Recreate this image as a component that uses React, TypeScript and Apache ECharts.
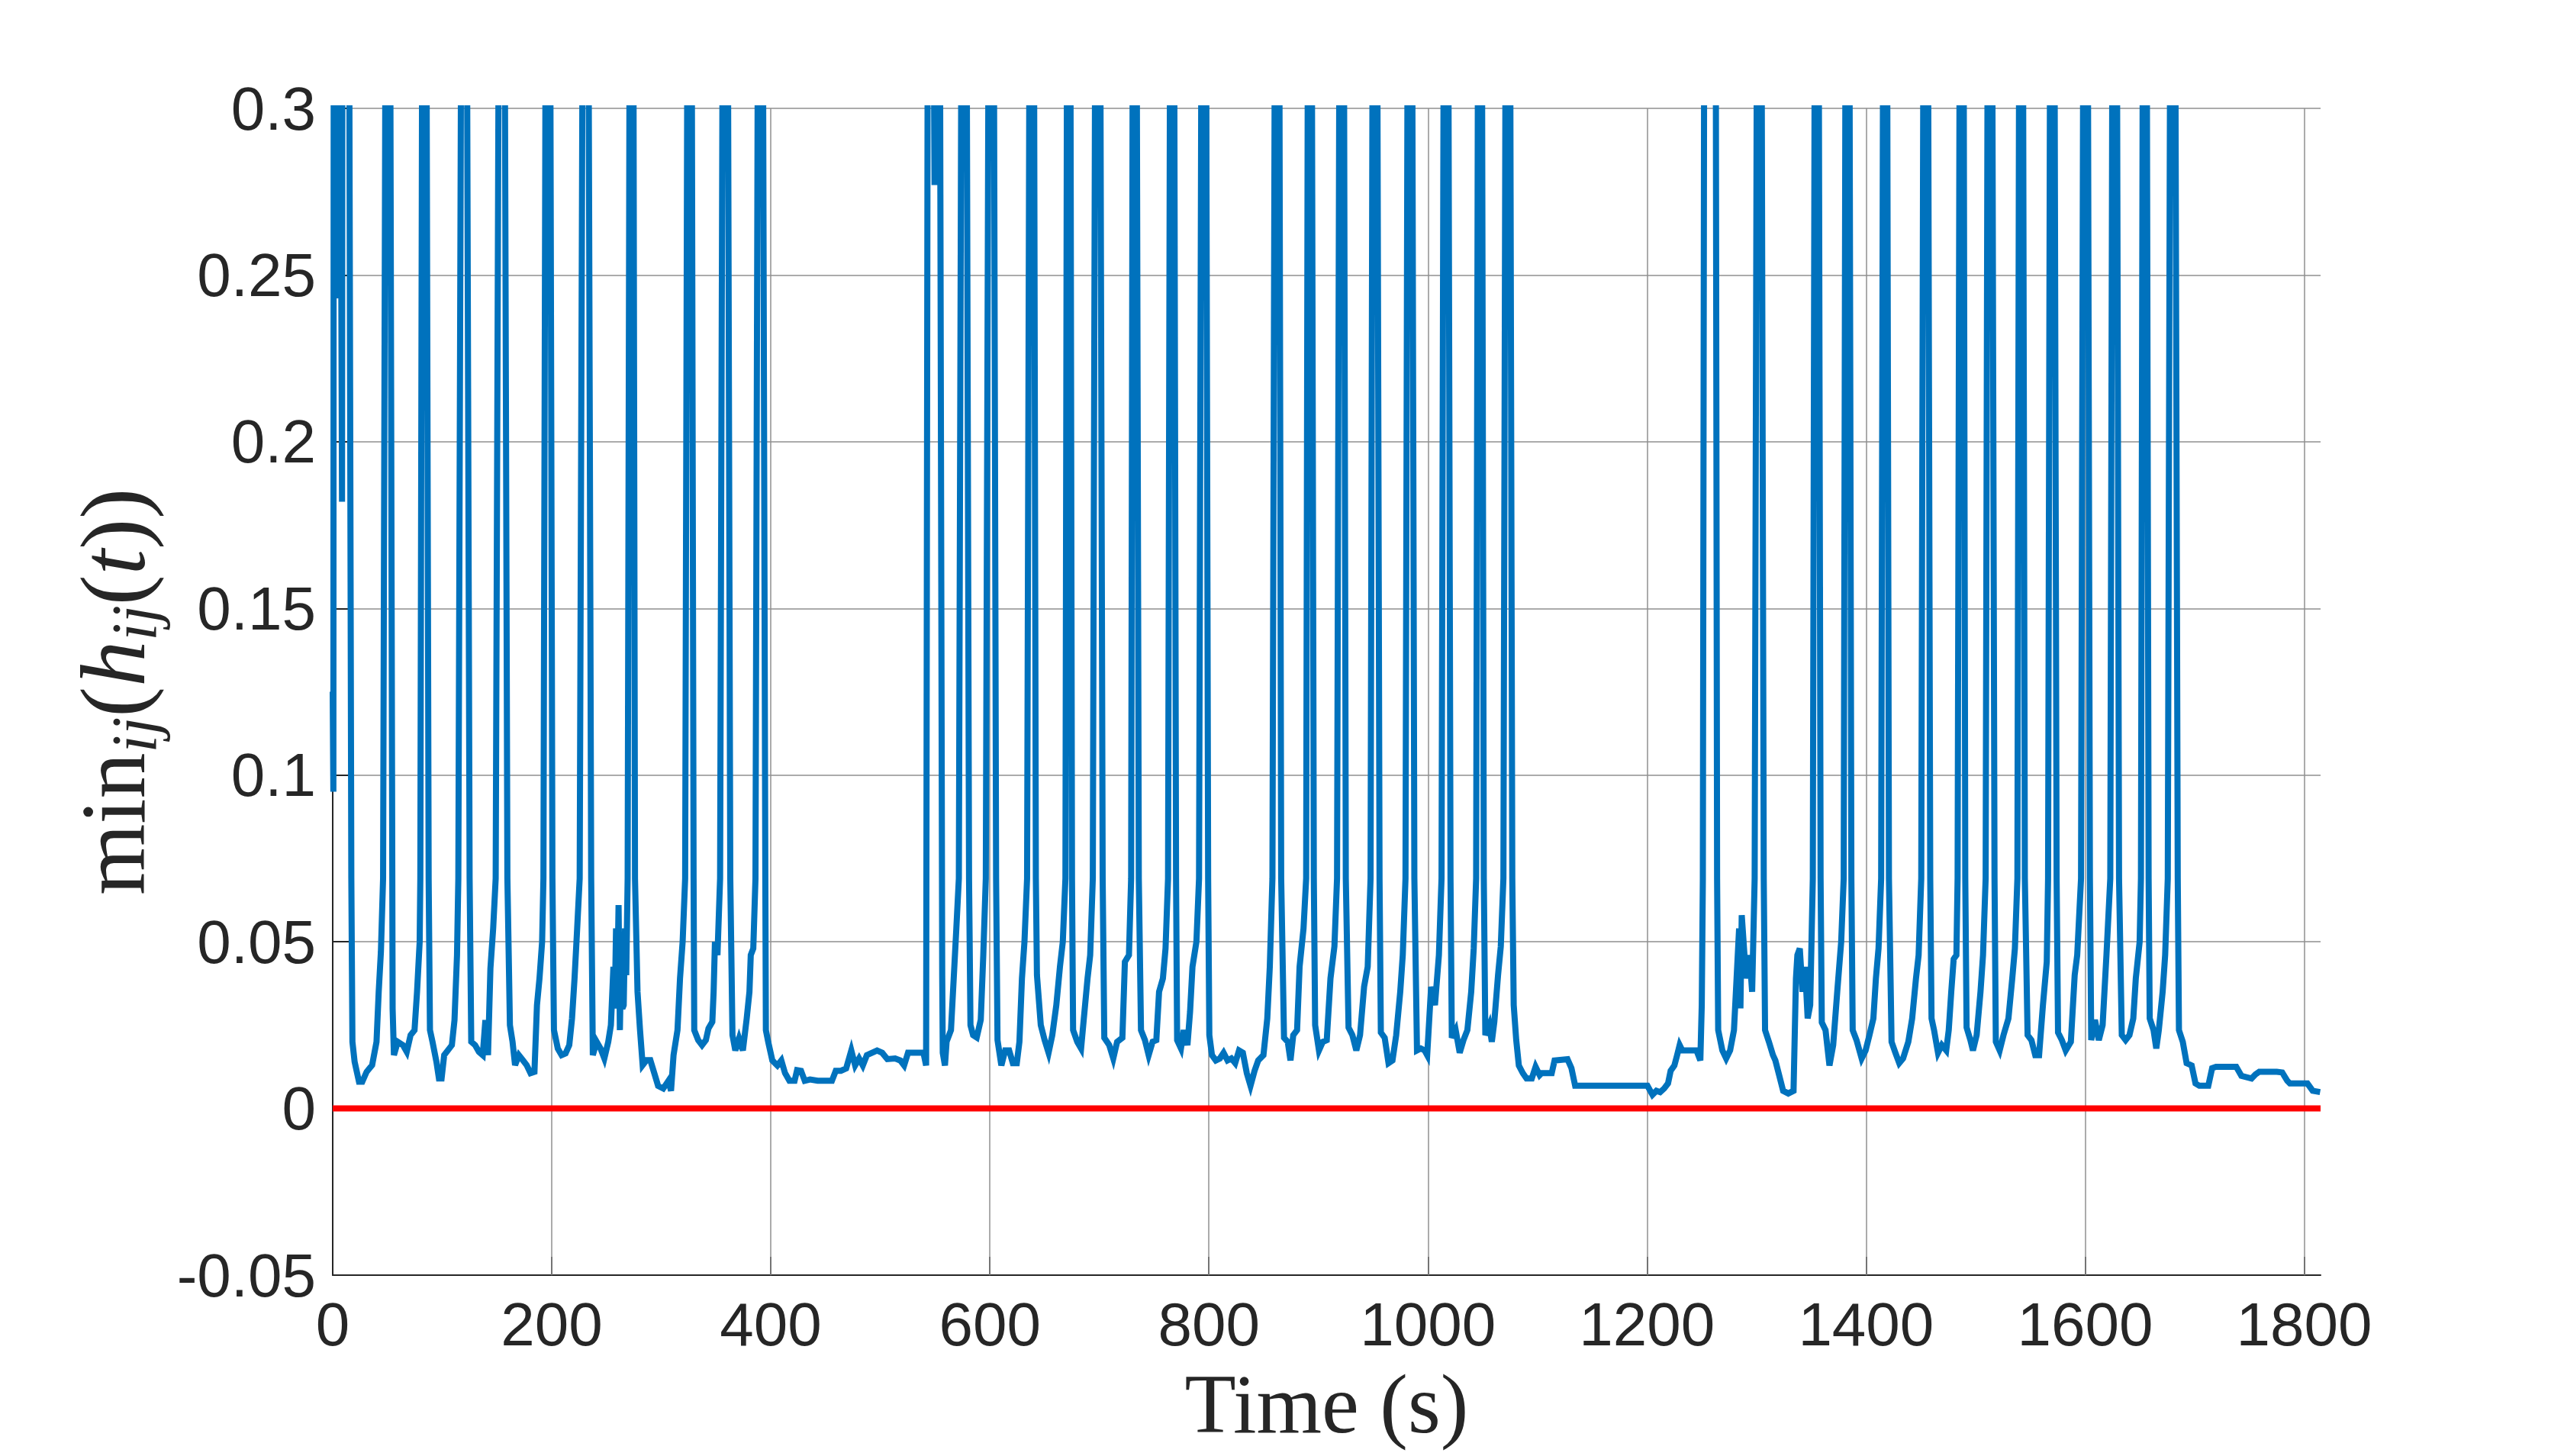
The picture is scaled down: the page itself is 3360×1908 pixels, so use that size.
import React, { useEffect, useRef } from 'react';
import * as echarts from 'echarts';

// ---- axis / tick definitions ----
const X_TICKS = [0, 200, 400, 600, 800, 1000, 1200, 1400, 1600, 1800];
const X_MIN = 0;
const X_MAX = 1815;
const Y_MIN = -0.05;
const Y_MAX = 0.3;
const Y_STEP = 0.05;

// safety threshold (red line)
const SAFETY_LEVEL = [[0, 0], [1815, 0]];

// ---- min_ij(h_ij(t)), [time s, value] ----
const burstA = [
  [0, 0.125], [0.6, 0.095], [1.3, 0.6], [3.8, 0.243], [4.4, 0.6], [8.5, 0.182], [9.5, 0.6], [13, 0.6],
  [17, 0.069], [18, 0.02], [20, 0.014], [24, 0.008], [27, 0.008], [31, 0.011], [36, 0.013], [40, 0.02], [42, 0.035], [44, 0.047], [46, 0.069],
  [50.5, 0.6],
  [54.7, 0.03], [55.9, 0.016], [59.4, 0.02], [64.1, 0.019], [67.6, 0.017], [71.1, 0.022], [74.7, 0.0235], [77, 0.035], [79.4, 0.05], [80, 0.069],
  [83.5, 0.6],
  [87.6, 0.069], [88.8, 0.0235], [91.1, 0.02], [94.7, 0.014], [97, 0.009], [99.4, 0.009], [101.8, 0.016], [105.3, 0.0175], [108.8, 0.019], [111.2, 0.0265], [113.5, 0.046], [114.7, 0.069],
  [120, 0.6],
  [125, 0.069], [126.5, 0.02], [130, 0.019], [133.5, 0.017], [137, 0.016], [139.4, 0.0265], [141.8, 0.016], [144, 0.042], [146.5, 0.054], [148.8, 0.069],
  [154.5, 0.6],
  [159.5, 0.069], [161.8, 0.025], [164.2, 0.02], [166.5, 0.013], [170, 0.016], [173.6, 0.0145], [177.1, 0.013], [180.6, 0.0106], [184.2, 0.011], [186.5, 0.031], [188.8, 0.039], [191.2, 0.05], [192.4, 0.069],
  [196.5, 0.6],
  [200.6, 0.069], [202, 0.0235], [205.5, 0.018], [209, 0.016], [212.6, 0.0165], [216, 0.019], [218.5, 0.027], [220.8, 0.039], [223.2, 0.054], [225.5, 0.069],
  [231, 0.6],
  [236, 0.069], [237.5, 0.016], [241, 0.02], [244.5, 0.018], [248, 0.015], [251.6, 0.02], [254, 0.025], [256.3, 0.0425], [257.5, 0.03], [258.7, 0.054], [260, 0.04], [261, 0.061], [262.2, 0.0235], [263.4, 0.046], [264.5, 0.03], [265.7, 0.031], [266.9, 0.054], [268, 0.04], [269.3, 0.069],
  [273, 0.6],
  [276, 0.069], [278.3, 0.035], [280.6, 0.0235], [283, 0.013], [286.5, 0.0145], [290, 0.0145], [293.6, 0.0106], [297.1, 0.0068], [301.8, 0.006], [306.5, 0.0083], [308.9, 0.0053], [311.2, 0.016], [314.8, 0.0235], [317.1, 0.039], [319.5, 0.05], [321.8, 0.069],
  [326, 0.6],
  [329.5, 0.069], [330.1, 0.0235], [333.7, 0.0205], [337.2, 0.019], [340.7, 0.0205], [343.1, 0.024], [346.6, 0.026], [347.8, 0.035], [349, 0.05], [351.3, 0.046], [353.7, 0.069],
  [358.5, 0.6],
  [363, 0.069], [365, 0.022], [367.6, 0.0174], [371, 0.021], [374.5, 0.0174], [378, 0.027], [380.5, 0.035], [381.7, 0.046], [384, 0.048], [386, 0.069],
  [390.5, 0.6],
];

const quietA = [
  [395, 0.069], [395.5, 0.0235], [397.6, 0.02], [401.4, 0.0144], [406, 0.0129], [409.6, 0.0144], [413, 0.0106], [417, 0.0083], [421.7, 0.0083], [424, 0.0115], [427.6, 0.0113], [431, 0.0083], [435.8, 0.0087], [442.8, 0.0083], [455.8, 0.0083], [459.3, 0.0113], [464, 0.0113], [468.8, 0.012], [473.5, 0.0174], [477, 0.0129], [480.6, 0.015], [484, 0.0129], [487.7, 0.016], [492.4, 0.0167], [497, 0.0174], [501.7, 0.0167], [506.4, 0.0148], [513.5, 0.015], [518.2, 0.0144], [521.7, 0.0129], [525.3, 0.0167], [530, 0.0167], [534.7, 0.0167], [539.4, 0.0167], [541.8, 0.0129],
];

const burstB = [
  [544.5, 0.6], [549.5, 0.277], [552.5, 0.6], [556.5, 0.04],
  [557, 0.0167], [559, 0.0129], [560.5, 0.02], [564.5, 0.0235], [567, 0.039], [569.4, 0.054], [571.7, 0.069],
  [576.5, 0.6],
  [581, 0.069], [582.3, 0.025], [584.7, 0.022], [588, 0.0213], [591.7, 0.0266], [594, 0.046], [596.3, 0.069],
  [601.5, 0.6],
  [605.7, 0.069], [607, 0.0205], [610.5, 0.0129], [614, 0.0174], [617.6, 0.0174], [621, 0.0136], [624.6, 0.0136], [627, 0.02], [629.3, 0.039], [631.6, 0.05], [634, 0.069],
  [638.5, 0.6],
  [642, 0.069], [643, 0.04], [646.5, 0.025], [650, 0.0205], [653.6, 0.0167], [657, 0.022], [660.7, 0.031], [664, 0.0425], [666.6, 0.05], [669, 0.069],
  [672, 0.6],
  [675, 0.069], [676, 0.0235], [679.8, 0.02], [683.3, 0.018], [685.7, 0.0266], [689.2, 0.039], [691.6, 0.046], [694, 0.069],
  [698.5, 0.6],
  [703, 0.069], [704.5, 0.0212], [709, 0.019], [712.7, 0.015], [716.2, 0.02], [721, 0.0212], [723.3, 0.044], [727, 0.046], [729, 0.069],
  [732, 0.6],
  [736, 0.069], [738, 0.0235], [741.6, 0.0205], [745, 0.016], [748.6, 0.02], [752, 0.0205], [754.5, 0.035], [758, 0.039], [760.4, 0.048], [762.7, 0.069],
  [766.5, 0.6],
  [770, 0.069], [771, 0.0205], [774.5, 0.018], [777, 0.0235], [780.4, 0.019], [782.8, 0.029], [785, 0.0425], [788.6, 0.05], [791, 0.069],
  [795.5, 0.6],
  [799.3, 0.069], [800.4, 0.022], [802.8, 0.016], [806.3, 0.0144], [810, 0.015], [813.4, 0.0167], [817, 0.0144], [820.5, 0.015], [824, 0.0136], [827.5, 0.0174], [831, 0.0167], [834.6, 0.0106], [838, 0.0068], [841.7, 0.0113], [845, 0.0144], [849.8, 0.016], [853.3, 0.027], [855.6, 0.0425], [858, 0.069],
  [862.5, 0.6],
  [866, 0.069], [868.6, 0.0212], [872, 0.02], [874.5, 0.0144], [877, 0.022], [880.5, 0.0235], [882.8, 0.0425], [886.4, 0.054], [888.8, 0.069],
  [892, 0.6],
  [895.8, 0.069], [897, 0.025], [900.5, 0.0174], [904, 0.02], [907.6, 0.0205], [911, 0.039], [914.6, 0.0486], [917, 0.069],
  [921.5, 0.6],
  [925, 0.069], [927.5, 0.0243], [931, 0.022], [934.6, 0.0174], [938, 0.022], [941.7, 0.0365], [945, 0.0425], [947.6, 0.069],
  [951.5, 0.6],
  [955.8, 0.069], [957, 0.0228], [960.5, 0.0212], [964, 0.0136], [967.6, 0.0144], [971, 0.022], [974.7, 0.035], [977, 0.046], [979.5, 0.069],
  [983.5, 0.6],
  [987.6, 0.069], [990, 0.0174], [993.5, 0.018], [997, 0.0174], [999.3, 0.016], [1002.9, 0.0365], [1006.4, 0.031], [1010, 0.046], [1012.4, 0.069],
  [1016.5, 0.6],
  [1020.6, 0.069], [1021.8, 0.0212], [1025.3, 0.0235], [1029, 0.0167], [1032.4, 0.0205], [1036, 0.0235], [1039.5, 0.035], [1041.8, 0.048], [1044, 0.069],
  [1047.5, 0.6],
  [1051, 0.069], [1052.4, 0.022], [1056, 0.025], [1058.3, 0.02], [1060.6, 0.026], [1064, 0.04], [1066.5, 0.0486], [1068.9, 0.069],
  [1073, 0.6],
];

const quietB = [
  [1077, 0.069], [1078.3, 0.031], [1080.6, 0.0205], [1083, 0.0129], [1086.6, 0.0106], [1090, 0.009], [1094.8, 0.009], [1098.3, 0.0125], [1102, 0.01], [1103.8, 0.0106], [1113, 0.0106], [1115.6, 0.0144], [1127.4, 0.0148], [1131, 0.0121], [1134.4, 0.0068], [1151, 0.0068], [1174.5, 0.0068], [1200.4, 0.0068], [1205, 0.0041], [1208.6, 0.0053], [1212, 0.0049], [1215.7, 0.006], [1219.2, 0.0075], [1221.6, 0.0113], [1225, 0.0129], [1227.5, 0.016], [1229.8, 0.019], [1232.2, 0.0174], [1245.2, 0.0174], [1248.7, 0.0144], [1250, 0.031], [1251, 0.069],
];

const burstC = [
  [1253.5, 0.6], [1261.5, 0.6],
  [1264, 0.069], [1265, 0.0235], [1268.8, 0.0174], [1272.3, 0.015], [1275.9, 0.0174], [1279.4, 0.0235], [1281.8, 0.039], [1284.1, 0.054], [1285.3, 0.03], [1286.5, 0.058], [1289, 0.046], [1291.2, 0.039], [1293.6, 0.046], [1296, 0.035], [1298.3, 0.069],
  [1302.5, 0.6],
  [1306.6, 0.069], [1307.8, 0.0235], [1311.3, 0.02], [1315, 0.016], [1317.2, 0.0144], [1320.8, 0.0098], [1324.3, 0.0053], [1329, 0.0045], [1333.8, 0.0053], [1336, 0.039], [1337.3, 0.046], [1339.5, 0.048], [1342, 0.035], [1344.3, 0.0425], [1346.7, 0.027], [1349, 0.031], [1351.4, 0.069],
  [1355, 0.6],
  [1358.5, 0.069], [1359.6, 0.0258], [1363, 0.0235], [1366.6, 0.0129], [1370, 0.019], [1373.7, 0.035], [1377.3, 0.05], [1379.6, 0.069],
  [1383, 0.6],
  [1386.6, 0.069], [1387.8, 0.0235], [1391.3, 0.0205], [1396, 0.015], [1399.6, 0.0174], [1403.1, 0.022], [1406.7, 0.027], [1409, 0.039], [1411.4, 0.048], [1413.8, 0.069],
  [1417.5, 0.6],
  [1420.9, 0.069], [1423.3, 0.02], [1426.8, 0.0167], [1430.3, 0.0136], [1433.8, 0.015], [1438.6, 0.02], [1442.1, 0.027], [1445.6, 0.039], [1448, 0.046], [1450.4, 0.069],
  [1454.5, 0.6],
  [1458.6, 0.069], [1459.8, 0.027], [1462.1, 0.0235], [1465.7, 0.0167], [1469.2, 0.019], [1473.2, 0.0174], [1475.5, 0.0235], [1477.8, 0.035], [1480, 0.0448], [1482.5, 0.046], [1483.6, 0.069],
  [1487.5, 0.6],
  [1490.6, 0.069], [1491.8, 0.0243], [1495.3, 0.0205], [1497.6, 0.0174], [1501, 0.022], [1504.5, 0.035], [1506.8, 0.046], [1509.2, 0.069],
  [1513, 0.6],
  [1517.3, 0.069], [1518.5, 0.02], [1522, 0.0174], [1525.5, 0.022], [1530, 0.027], [1533.5, 0.039], [1535.9, 0.048], [1538.2, 0.069],
  [1541.5, 0.6],
  [1545, 0.069], [1547.5, 0.022], [1551, 0.0205], [1554.5, 0.016], [1558, 0.016], [1561.5, 0.031], [1565, 0.044], [1566.2, 0.069],
  [1570, 0.6],
  [1574, 0.069], [1575.3, 0.0228], [1578.8, 0.0205], [1582.3, 0.0174], [1587, 0.02], [1590.5, 0.04], [1592.8, 0.046], [1596.3, 0.069],
  [1600.5, 0.6],
  [1604.4, 0.069], [1605.6, 0.0205], [1609, 0.0266], [1612.5, 0.0205], [1616, 0.025], [1619.5, 0.046], [1623, 0.069],
  [1627, 0.6],
  [1631, 0.069], [1633.5, 0.022], [1637, 0.0205], [1640.5, 0.022], [1644, 0.027], [1646.3, 0.039], [1649.8, 0.05], [1651, 0.069],
  [1654.5, 0.6],
  [1658, 0.069], [1659, 0.027], [1662.5, 0.0235], [1665, 0.018], [1667.3, 0.0235], [1670.8, 0.035], [1673.1, 0.046], [1675.5, 0.069],
  [1680, 0.6],
];

const tailC = [
  [1684.6, 0.069], [1685.7, 0.0235], [1689.2, 0.02], [1692.7, 0.0136], [1697.3, 0.0129], [1700.8, 0.0075], [1704.3, 0.0068], [1712.5, 0.0068], [1716, 0.0121], [1719.5, 0.0125], [1738, 0.0125], [1742.7, 0.0098], [1752, 0.009], [1755.5, 0.0102], [1759, 0.011], [1775, 0.011], [1780, 0.0108], [1784.6, 0.0083], [1787, 0.0075], [1803, 0.0075], [1807.8, 0.0053], [1814.6, 0.0049],
];

const minDistance = [...burstA, ...quietA, ...burstB, ...quietB, ...burstC, ...tailC];

const INK = '#262626';
const GRID = '#8f8f8f';

export default function App() {
  const ref = useRef<HTMLDivElement>(null);

  useEffect(() => {
    document.body.style.margin = '0';
    document.body.style.overflow = 'hidden';
    const chart = echarts.init(ref.current as HTMLDivElement, undefined, { renderer: 'svg' });

    const tickLabelStyle = {
      fontFamily: 'Liberation Sans, Arial, sans-serif',
      fontSize: 80,
      color: INK,
    };

    chart.setOption({
      animation: false,
      backgroundColor: '#ffffff',
      grid: { left: 436, right: 319, top: 142, bottom: 237, containLabel: false },
      xAxis: {
        type: 'value',
        min: X_MIN,
        max: X_MAX,
        interval: 200,
        name: 'Time (s)',
        nameLocation: 'middle',
        nameGap: 114,
        nameTextStyle: {
          fontFamily: 'Liberation Serif, Times New Roman, serif',
          fontSize: 110,
          color: INK,
        },
        axisLine: { show: true, onZero: false, lineStyle: { color: INK, width: 2 } },
        axisTick: { show: true, inside: true, length: 24, customValues: X_TICKS, lineStyle: { color: INK, width: 2 } },
        axisLabel: {
          ...tickLabelStyle,
          margin: 24,
          customValues: X_TICKS,
          formatter: (v: number) => (X_TICKS.includes(v) ? String(v) : ''),
        },
        splitLine: { show: false },
      },
      yAxis: {
        type: 'value',
        min: Y_MIN,
        max: Y_MAX,
        interval: Y_STEP,
        name: '{r|min}{s|ij}{r|(}{i|h}{s|ij}{r|(}{i|t}{r|))}',
        nameLocation: 'middle',
        nameRotate: 90,
        nameGap: 218,
        nameTextStyle: {
          rich: {
            r: { fontFamily: 'Liberation Serif, serif', fontSize: 120, lineHeight: 140, color: INK },
            i: { fontFamily: 'Liberation Serif, serif', fontStyle: 'italic', fontSize: 120, lineHeight: 140, color: INK },
            s: { fontFamily: 'Liberation Serif, serif', fontStyle: 'italic', fontSize: 84, lineHeight: 72, verticalAlign: 'bottom', color: INK },
          },
        },
        axisLine: { show: true, lineStyle: { color: INK, width: 2 } },
        axisTick: { show: true, inside: true, length: 24, lineStyle: { color: INK, width: 2 } },
        axisLabel: {
          ...tickLabelStyle,
          margin: 22,
          formatter: (v: number) => String(parseFloat(v.toFixed(2))),
        },
        splitLine: { show: true, lineStyle: { color: GRID, width: 1.5 } },
      },
      series: [
        {
          name: 'grid',
          type: 'line',
          data: [],
          silent: true,
          z: 1,
          markLine: {
            silent: true,
            z: 1,
            symbol: ['none', 'none'],
            label: { show: false },
            lineStyle: { color: GRID, width: 1.5, type: 'solid' },
            emphasis: { disabled: true },
            data: X_TICKS.filter((v) => v > X_MIN).map((v) => ({ xAxis: v })),
          },
        },
        {
          name: 'min h',
          type: 'line',
          data: minDistance,
          showSymbol: false,
          symbol: 'none',
          clip: true,
          z: 3,
          lineStyle: { color: '#0072BD', width: 8, join: 'miter' },
          itemStyle: { color: '#0072BD' },
        },
        {
          name: 'zero',
          type: 'line',
          data: SAFETY_LEVEL,
          showSymbol: false,
          symbol: 'none',
          z: 4,
          lineStyle: { color: '#FF0000', width: 8 },
          itemStyle: { color: '#FF0000' },
        },
      ],
    });

    return () => chart.dispose();
  }, []);

  return <div ref={ref} style={{ width: 3360, height: 1908 }} />;
}
